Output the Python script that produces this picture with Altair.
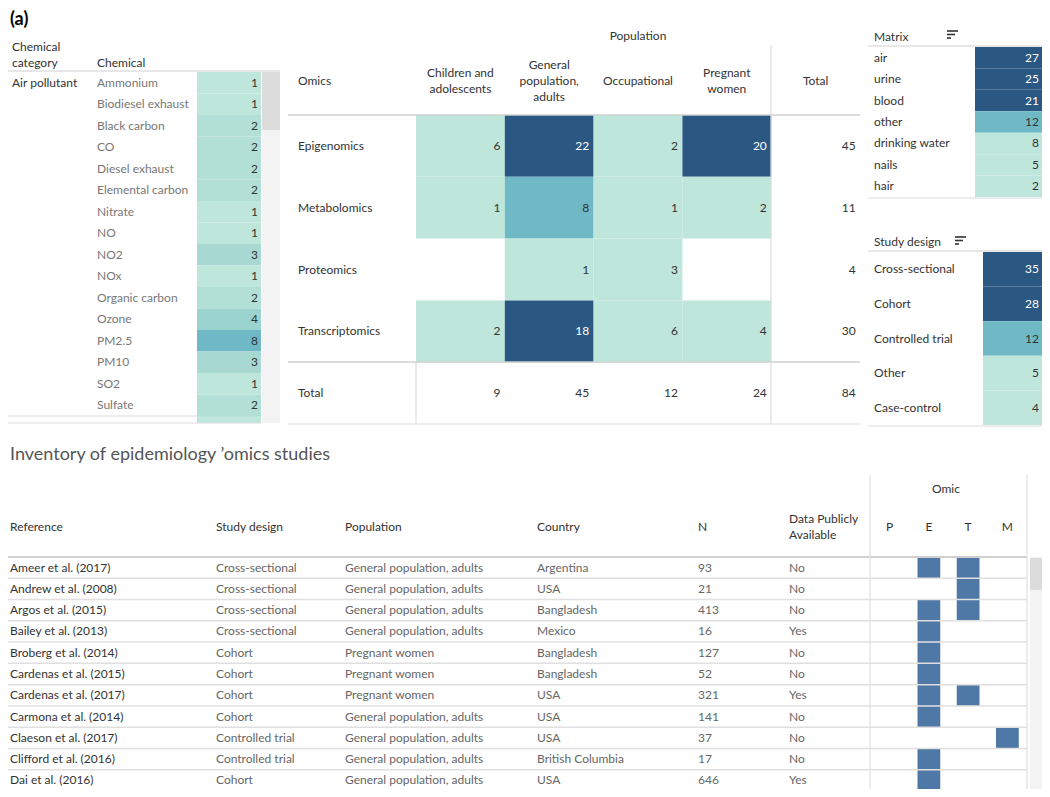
import altair as alt
import pandas as pd

# ---------------- data ----------------
panel_label = "(a)"
chem_header_cat = "Chemical\ncategory"
chem_header_name = "Chemical"
chem_category = "Air pollutant"
chemicals = ["Ammonium", "Biodiesel exhaust", "Black carbon", "CO", "Diesel exhaust",
             "Elemental carbon", "Nitrate", "NO", "NO2", "NOx", "Organic carbon",
             "Ozone", "PM2.5", "PM10", "SO2", "Sulfate"]
chem_counts = [1, 1, 2, 2, 2, 2, 1, 1, 3, 1, 2, 4, 8, 3, 1, 2]

omics_title = "Population"
omics_row_header = "Omics"
omics = ["Epigenomics", "Metabolomics", "Proteomics", "Transcriptomics"]
populations = ["Children and adolescents", "General population, adults",
               "Occupational", "Pregnant women"]
population_headers = ["Children and\nadolescents", "General\npopulation,\nadults",
                      "Occupational", "Pregnant\nwomen", "Total"]
omics_counts = [[6, 22, 2, 20],
                [1, 8, 1, 2],
                [None, 1, 3, None],
                [2, 18, 6, 4]]
omics_row_totals = [45, 11, 4, 30]
omics_col_totals = [9, 45, 12, 24]
omics_grand_total = 84

matrix_title = "Matrix"
matrices = ["air", "urine", "blood", "other", "drinking water", "nails", "hair"]
matrix_counts = [27, 25, 21, 12, 8, 5, 2]

design_title = "Study design"
designs = ["Cross-sectional", "Cohort", "Controlled trial", "Other", "Case-control"]
design_counts = [35, 28, 12, 5, 4]

inventory_title = "Inventory of epidemiology \u2019omics studies"
inv_headers = ["Reference", "Study design", "Population", "Country", "N",
               "Data Publicly\nAvailable"]
omic_header = "Omic"
omic_letters = ["P", "E", "T", "M"]
refs = ["Ameer et al. (2017)", "Andrew et al. (2008)", "Argos et al. (2015)",
        "Bailey et al. (2013)", "Broberg et al. (2014)", "Cardenas et al. (2015)",
        "Cardenas et al. (2017)", "Carmona et al. (2014)", "Claeson et al. (2017)",
        "Clifford et al. (2016)", "Dai et al. (2016)"]
ref_design = ["Cross-sectional", "Cross-sectional", "Cross-sectional", "Cross-sectional",
              "Cohort", "Cohort", "Cohort", "Cohort", "Controlled trial",
              "Controlled trial", "Cohort"]
ref_population = ["General population, adults", "General population, adults",
                  "General population, adults", "General population, adults",
                  "Pregnant women", "Pregnant women", "Pregnant women",
                  "General population, adults", "General population, adults",
                  "General population, adults", "General population, adults"]
ref_country = ["Argentina", "USA", "Bangladesh", "Mexico", "Bangladesh", "Bangladesh",
               "USA", "USA", "USA", "British Columbia", "USA"]
ref_n = [93, 21, 413, 16, 127, 52, 321, 141, 37, 17, 646]
ref_public = ["No", "No", "No", "Yes", "No", "No", "Yes", "No", "No", "No", "Yes"]
ref_omics = [["E", "T"], ["T"], ["E", "T"], ["E"], ["E"], ["E"], ["E", "T"],
             ["E"], ["M"], ["E"], ["E"]]

# ---------------- styling / layout helpers ----------------
FONT = "Lato"
FS = 12
LH = 16
DARK = "#333333"
MID = "#666666"
LIGHTTXT = "#777777"
GRID = "#dcdcdc"
C_LIGHT = "#bee6da"
C_MED = "#6fb8c5"
C_DARK = "#2b5783"
BAR = "#4e79a7"


def X(v):
    return v - 8


def Y(v):
    return v - 8


ONE = pd.DataFrame({"d": [0]})


def first_line_y(text, y):
    n = text.count("\n") + 1
    return y - (n - 1) * LH / 2


def label(text, x, y, size=FS, color=DARK, align="left", weight="normal"):
    kw = dict(align=align, baseline="middle", font=FONT, fontSize=size,
              color=color, fontWeight=weight)
    if "\n" in text:
        kw.update(lineBreak="\n", lineHeight=LH)
    return alt.Chart(pd.DataFrame({"t": [text]})).mark_text(**kw).encode(
        x=alt.value(X(x)), y=alt.value(Y(first_line_y(text, y))), text="t:N")


def hline(x1, x2, y, color=GRID, w=1.0):
    return alt.Chart(ONE).mark_rule(color=color, strokeWidth=w).encode(
        x=alt.value(X(x1)), x2=alt.value(X(x2)), y=alt.value(Y(y)))


def vline(x, y1, y2, color=GRID, w=1.0):
    return alt.Chart(ONE).mark_rule(color=color, strokeWidth=w).encode(
        x=alt.value(X(x)), y=alt.value(Y(y1)), y2=alt.value(Y(y2)))


def box(x1, x2, y1, y2, color):
    return alt.Chart(ONE).mark_rect(color=color).encode(
        x=alt.value(X(x1)), x2=alt.value(X(x2)),
        y=alt.value(Y(y1)), y2=alt.value(Y(y2)))


def sort_icon(x, y):
    return [hline(x, x + 11, y, DARK, 1.6),
            hline(x, x + 8, y + 3.5, DARK, 1.6),
            hline(x, x + 4, y + 7, DARK, 1.6)]


def band(field, domain, a, b, pi=0.0, po=0.0, axis_ch="y"):
    sc = alt.Scale(domain=domain, range=[a - 8, b - 8], paddingInner=pi, paddingOuter=po)
    enc = alt.Y if axis_ch == "y" else alt.X
    return enc(field, scale=sc, axis=None)


def band_rule_bottom(field, domain, a, b):
    sc = alt.Scale(domain=domain, range=[a - 8, b - 8], paddingInner=0, paddingOuter=0)
    return alt.Y(field, scale=sc, axis=None, bandPosition=1)


layers = []

# ---------------- (a) ----------------
layers.append(label(panel_label, 10, 20, size=18, color="#000000", weight="bold"))

# ---------------- chemical table ----------------
chem_df = pd.DataFrame({"chem": chemicals, "n": chem_counts})
cy = band("chem:N", chemicals, 72, 416)
layers += [
    box(262, 280, 72, 423, "#f3f3f3"),
    box(262, 280, 72, 130, "#dcdcdc"),
    alt.Chart(chem_df).mark_rect().encode(
        x=alt.value(X(197)), x2=alt.value(X(261)), y=cy,
        color=alt.Color("n:Q", scale=alt.Scale(domain=[1, 8], range=[C_LIGHT, C_MED]),
                        legend=None)),
    box(197, 261, 416, 423, C_LIGHT),
    alt.Chart(chem_df).mark_text(align="left", baseline="middle", font=FONT,
                                 fontSize=FS, color=LIGHTTXT).encode(
        x=alt.value(X(97)), y=cy, text="chem:N"),
    alt.Chart(chem_df).mark_text(align="right", baseline="middle", font=FONT,
                                 fontSize=FS, color=DARK).encode(
        x=alt.value(X(258)), y=cy, text="n:Q"),
    label(chem_header_cat, 12, 55),
    label(chem_header_name, 97, 63),
    label(chem_category, 12, 83),
    hline(5, 280, 71, "#d0d0d0", 1.2),
    hline(5, 197, 416, GRID, 1.2),
    hline(5, 262, 423, GRID, 1.2),
]

# ---------------- omics x population heatmap ----------------
rows_all = omics + ["Total"]
cols_all = populations + ["Total"]
recs = []
for i, o in enumerate(omics):
    for j, p in enumerate(populations):
        v = omics_counts[i][j]
        if v is not None:
            recs.append({"omic": o, "pop": p, "v": v, "inner": True})
    recs.append({"omic": o, "pop": "Total", "v": omics_row_totals[i], "inner": False})
for j, p in enumerate(populations):
    recs.append({"omic": "Total", "pop": p, "v": omics_col_totals[j], "inner": False})
recs.append({"omic": "Total", "pop": "Total", "v": omics_grand_total, "inner": False})
om_df = pd.DataFrame(recs)
ox = band("pop:N", cols_all, 416, 860, axis_ch="x")
oy = band("omic:N", rows_all, 115, 424)
hdr_df = pd.DataFrame({"pop": cols_all, "lab": population_headers})
hdr_df["lines"] = hdr_df["lab"].str.count("\n") + 1
rowlab_df = pd.DataFrame({"omic": rows_all})
layers += [
    alt.Chart(om_df).transform_filter("datum.inner").mark_rect().encode(
        x=ox, y=oy,
        color=alt.Color("v:Q", scale=alt.Scale(type="threshold", domain=[7.5, 15],
                                               range=[C_LIGHT, C_MED, C_DARK]),
                        legend=None)),
    alt.Chart(om_df).mark_text(align="right", baseline="middle", font=FONT,
                               fontSize=FS, dx=40).encode(
        x=ox, y=oy, text="v:Q",
        color=alt.condition("datum.inner && datum.v >= 15",
                            alt.value("white"), alt.value(DARK))),
    alt.Chart(rowlab_df).mark_text(align="left", baseline="middle", font=FONT,
                                   fontSize=FS, color=DARK).encode(
        x=alt.value(X(298)), y=oy, text="omic:N"),
    label(omics_title, 638, 36, align="center"),
    label(omics_row_header, 298, 81),
    hline(288, 860, 115, "#d0d0d0", 1.5),
    hline(288, 860, 362, "#d0d0d0", 1.5),
    hline(288, 860, 424, GRID, 1.2),
    vline(771, 45, 424, GRID, 1.2),
    vline(416, 362, 424, GRID, 1.2),
]
for nl in (1, 2, 3):
    layers.append(
        alt.Chart(hdr_df).transform_filter(f"datum.lines == {nl}").mark_text(
            align="center", baseline="middle", font=FONT, fontSize=FS, color=DARK,
            lineBreak="\n", lineHeight=LH).encode(
            x=ox, y=alt.value(Y(81 - (nl - 1) * LH / 2)), text="lab:N"))

# ---------------- matrix ----------------
mx_df = pd.DataFrame({"m": matrices, "n": matrix_counts})
my = band("m:N", matrices, 47, 197)
layers += [
    alt.Chart(mx_df).mark_rect().encode(
        x=alt.value(X(975)), x2=alt.value(X(1043)), y=my,
        color=alt.Color("n:Q", scale=alt.Scale(type="threshold", domain=[10, 20],
                                               range=[C_LIGHT, C_MED, C_DARK]),
                        legend=None)),
    alt.Chart(mx_df).mark_text(align="left", baseline="middle", font=FONT,
                               fontSize=FS, color=DARK).encode(
        x=alt.value(X(874)), y=my, text="m:N"),
    alt.Chart(mx_df).mark_text(align="right", baseline="middle", font=FONT,
                               fontSize=FS).encode(
        x=alt.value(X(1039)), y=my, text="n:Q",
        color=alt.condition("datum.n >= 20", alt.value("white"), alt.value(DARK))),
    label(matrix_title, 874, 37),
    hline(868, 1043, 46, "#d0d0d0", 1.2),
    hline(868, 1043, 198, GRID, 1.2),
] + sort_icon(947, 31)

# ---------------- study design ----------------
sd_df = pd.DataFrame({"d": designs, "n": design_counts})
sdy = band("d:N", designs, 252, 425)
layers += [
    alt.Chart(sd_df).mark_rect().encode(
        x=alt.value(X(983)), x2=alt.value(X(1043)), y=sdy,
        color=alt.Color("n:Q", scale=alt.Scale(type="threshold", domain=[10, 20],
                                               range=[C_LIGHT, C_MED, C_DARK]),
                        legend=None)),
    alt.Chart(sd_df).mark_text(align="left", baseline="middle", font=FONT,
                               fontSize=FS, color=DARK).encode(
        x=alt.value(X(874)), y=sdy, text="d:N"),
    alt.Chart(sd_df).mark_text(align="right", baseline="middle", font=FONT,
                               fontSize=FS).encode(
        x=alt.value(X(1039)), y=sdy, text="n:Q",
        color=alt.condition("datum.n >= 20", alt.value("white"), alt.value(DARK))),
    label(design_title, 874, 242),
    hline(868, 1043, 251, "#d0d0d0", 1.2),
    hline(868, 1043, 426, GRID, 1.2),
] + sort_icon(955, 237)

# ---------------- inventory ----------------
inv_df = pd.DataFrame({"ref": refs, "design": ref_design, "pop": ref_population,
                       "country": ref_country, "n": ref_n, "pub": ref_public})
bars = [{"ref": r, "o": o} for r, os_ in zip(refs, ref_omics) for o in os_]
bar_df = pd.DataFrame(bars)
INV_TOP, INV_BOT = 557, 791
iy = band("ref:N", refs, INV_TOP, INV_BOT)
iy_bottom = band_rule_bottom("ref:N", refs, INV_TOP, INV_BOT)
ix = band("o:N", omic_letters, 870, 1027, pi=0.42, po=0.21, axis_ch="x")
layers += [
    label(inventory_title, 10, 455, size=18, color="#555555"),
    box(1030, 1048, 557, 797, "#f3f3f3"),
    box(1030, 1047, 558, 590, "#dcdcdc"),
    alt.Chart(bar_df).mark_rect(color=BAR).encode(x=ix, y=iy),
    alt.Chart(inv_df).mark_rule(color="#e0e0e0", strokeWidth=1.5).encode(
        x=alt.value(X(8)), x2=alt.value(X(1027)), y=iy_bottom),
    hline(8, 1027, 557, "#d0d0d0", 1.8),
    vline(870, 475, 797, "#e0e0e0", 1.2),
    vline(1027, 475, 797, "#e0e0e0", 1.2),
    label(omic_header, 946, 489, align="center"),
    alt.Chart(pd.DataFrame({"o": omic_letters})).mark_text(
        align="center", baseline="middle", font=FONT, fontSize=FS, color=DARK).encode(
        x=ix, y=alt.value(Y(527)), text="o:N"),
]
col_x = [10, 216, 345, 537, 698, 789]
col_fields = ["ref", "design", "pop", "country", "n", "pub"]
col_colors = [DARK, MID, MID, MID, MID, MID]
for h, xpos, f, c in zip(inv_headers, col_x, col_fields, col_colors):
    layers.append(label(h, xpos, 527))
    layers.append(alt.Chart(inv_df).mark_text(align="left", baseline="middle", font=FONT,
                                              fontSize=FS, color=c).encode(
        x=alt.value(X(xpos)), y=iy, text=f + (":Q" if f == "n" else ":N")))

chart = alt.layer(*layers).resolve_scale(
    x="independent", y="independent", color="independent"
).properties(
    width=1034, height=781, padding=0,
    autosize=alt.AutoSizeParams(type="none"), background="white"
).configure_view(stroke=None)

chart.save("out.html", embed_options={"renderer": "svg", "actions": False})
